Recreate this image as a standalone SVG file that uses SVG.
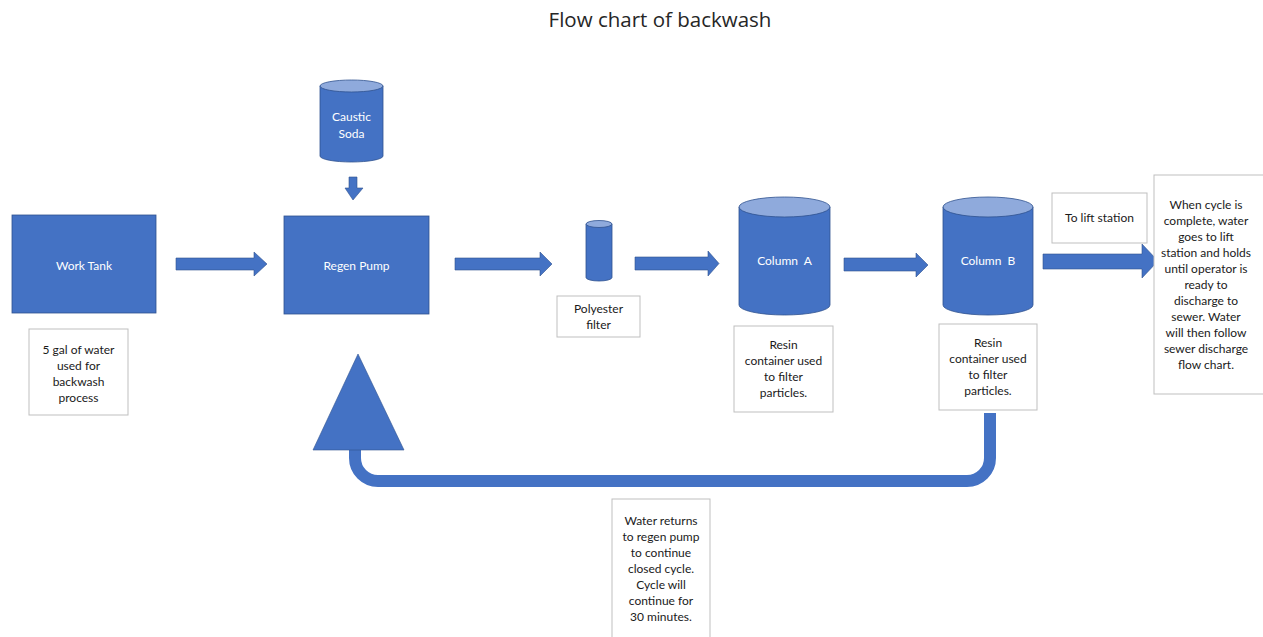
<svg xmlns="http://www.w3.org/2000/svg" width="1263" height="637" viewBox="0 0 1263 637">
<defs>
<style>
.shape{fill:#4472C4;stroke:#2F528F;stroke-width:0.8}
.cap{fill:#8FAADC;stroke:#2F528F;stroke-width:0.8}
.note{fill:#FFFFFF;stroke:#BFBFBF;stroke-width:1}
.arrow{fill:#4472C4;stroke:#2F528F;stroke-width:0.6}
.wt{font-family:Lato,"Open Sans",sans-serif;font-size:12px;fill:#FFFFFF;text-anchor:middle}
.bt{font-family:Lato,"Open Sans",sans-serif;font-size:12px;fill:#1a1a1a;text-anchor:middle}
.title{font-family:"Open Sans",Lato,sans-serif;font-size:20.5px;fill:#262626;text-anchor:middle}
</style>
</defs>
<rect width="1263" height="637" fill="#FFFFFF"/>
<text class="title" x="660" y="27">Flow chart of backwash</text>

<g id="connectors">
<polygon class="arrow" points="176,258 254,258 254,252 267,264 254,276 254,270 176,270"/>
<polygon class="arrow" points="455,258 540,258 540,252 552,264 540,276 540,270 455,270"/>
<polygon class="arrow" points="635,257 708,257 708,251 719,263.5 708,276 708,270 635,270"/>
<polygon class="arrow" points="844,258 916,258 916,253 928,265 916,277 916,271 844,271"/>
<polygon class="arrow" points="1043,254 1142,254 1142,244 1158,261 1142,278 1142,269 1043,269"/>
<polygon class="arrow" points="349,177 357,177 357,188 363,188 353,200 345,188 349,188"/>
<path d="M990,413 V458 A23,23 0 0 1 967,481 H378 A23,23 0 0 1 355,458 V448" fill="none" stroke="#4472C4" stroke-width="12"/>
<polygon class="arrow" points="358,354 404,450 313,450"/>
</g>

<g id="work-tank">
<rect class="shape" x="12" y="215" width="144" height="98"/>
<text class="wt" x="84" y="270">Work Tank</text>
</g>
<g id="work-tank-note">
<rect class="note" x="29" y="329" width="99" height="86"/>
<text class="bt" x="78.5" y="354">5 gal of water</text>
<text class="bt" x="78.5" y="370">used for</text>
<text class="bt" x="78.5" y="386">backwash</text>
<text class="bt" x="78.5" y="402">process</text>
</g>

<g id="caustic-soda">
<path class="shape" d="M320,86 V156 A31.5,6 0 0 0 383,156 V86 Z"/>
<ellipse class="cap" cx="351.5" cy="86" rx="31.5" ry="6"/>
<text class="wt" x="351.5" y="121">Caustic</text>
<text class="wt" x="351.5" y="138">Soda</text>
</g>

<g id="regen-pump">
<rect class="shape" x="284" y="216" width="145" height="98"/>
<text class="wt" x="356.5" y="270">Regen Pump</text>
</g>

<g id="polyester-filter">
<path class="shape" d="M586,224 V277.5 A13,3.5 0 0 0 612,277.5 V224 Z"/>
<ellipse class="cap" cx="599" cy="224" rx="13" ry="3.5"/>
</g>
<g id="polyester-note">
<rect class="note" x="557" y="296" width="83" height="41"/>
<text class="bt" x="598.5" y="313">Polyester</text>
<text class="bt" x="598.5" y="329">filter</text>
</g>

<g id="column-a">
<path class="shape" d="M739,207 V305 A45.5,10 0 0 0 830,305 V207 Z"/>
<ellipse class="cap" cx="784.5" cy="207" rx="45.5" ry="10"/>
<text class="wt" x="784.5" y="265" xml:space="preserve">Column  A</text>
</g>
<g id="column-a-note">
<rect class="note" x="734" y="326" width="99" height="86"/>
<text class="bt" x="783.5" y="349">Resin</text>
<text class="bt" x="783.5" y="365">container used</text>
<text class="bt" x="783.5" y="381">to filter</text>
<text class="bt" x="783.5" y="397">particles.</text>
</g>

<g id="column-b">
<path class="shape" d="M943,207 V305 A45,10 0 0 0 1033,305 V207 Z"/>
<ellipse class="cap" cx="988" cy="207" rx="45" ry="10"/>
<text class="wt" x="988" y="265" xml:space="preserve">Column  B</text>
</g>
<g id="column-b-note">
<rect class="note" x="939" y="324" width="98" height="86"/>
<text class="bt" x="988" y="347">Resin</text>
<text class="bt" x="988" y="363">container used</text>
<text class="bt" x="988" y="379">to filter</text>
<text class="bt" x="988" y="395">particles.</text>
</g>

<g id="lift-station-note">
<rect class="note" x="1052" y="193" width="95" height="50"/>
<text class="bt" x="1099.5" y="222">To lift station</text>
</g>

<g id="cycle-complete-note">
<rect class="note" x="1154" y="175" width="115" height="219"/>
<text class="bt" x="1206" y="209">When cycle is</text>
<text class="bt" x="1206" y="225">complete, water</text>
<text class="bt" x="1206" y="241">goes to lift</text>
<text class="bt" x="1206" y="257">station and holds</text>
<text class="bt" x="1206" y="273">until operator is</text>
<text class="bt" x="1206" y="289">ready to</text>
<text class="bt" x="1206" y="305">discharge to</text>
<text class="bt" x="1206" y="321">sewer. Water</text>
<text class="bt" x="1206" y="337">will then follow</text>
<text class="bt" x="1206" y="353">sewer discharge</text>
<text class="bt" x="1206" y="369">flow chart.</text>
</g>

<g id="return-note">
<rect class="note" x="612" y="499" width="98" height="145"/>
<text class="bt" x="661" y="525">Water returns</text>
<text class="bt" x="661" y="541">to regen pump</text>
<text class="bt" x="661" y="557">to continue</text>
<text class="bt" x="661" y="573">closed cycle.</text>
<text class="bt" x="661" y="589">Cycle will</text>
<text class="bt" x="661" y="605">continue for</text>
<text class="bt" x="661" y="621">30 minutes.</text>
</g>
</svg>
